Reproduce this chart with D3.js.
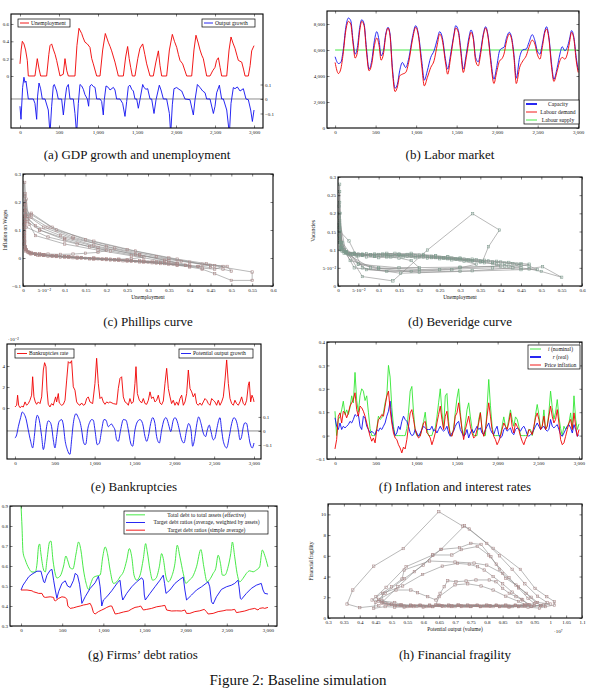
<!DOCTYPE html>
<html>
<head>
<meta charset="utf-8">
<script src="https://cdn.jsdelivr.net/npm/d3@7"></script>
<style>
body { margin: 0; background: #fff; }
text { font-family: "Liberation Serif", "DejaVu Serif", serif; fill: #111; }
.axis text { font-size: 5px; }
.axis line { stroke: #000; stroke-width: 0.5; }
</style>
</head>
<body>
<svg id="fig" width="592" height="688"></svg>
<script>

// (a) GDP growth and unemployment  [time, value]
const unemploymentA = [[0,0.14],[15,0.3],[30,0.40],[51,0.37],[72,0.3],[94,0.18],[107,0],[192,0],[222,0.2],[245,0.08],[265,0],[342,0],[370,0.25],[385,0.35],[406,0.37],[430,0.3],[450,0.25],[470,0.18],[513,0],[555,0.02],[577,0.2],[600,0.06],[620,0],[705,0],[730,0.35],[756,0.55],[791,0.49],[810,0.44],[833,0.39],[863,0.37],[897,0.33],[920,0.2],[940,0.14],[983,0],[1026,0],[1060,0.3],[1094,0.49],[1132,0.39],[1155,0.34],[1175,0.29],[1218,0.16],[1261,0],[1325,0],[1355,0.22],[1380,0.34],[1400,0.2],[1419,0.1],[1440,0],[1474,0],[1510,0.2],[1538,0.32],[1573,0.37],[1600,0.25],[1624,0.14],[1667,0],[1709,0],[1740,0.15],[1774,0.29],[1795,0.12],[1816,0],[1880,0],[1915,0.3],[1953,0.48],[1980,0.4],[2009,0.33],[2030,0.25],[2051,0.18],[2085,0.14],[2137,0],[2201,0],[2230,0.3],[2256,0.47],[2285,0.38],[2308,0.3],[2330,0.24],[2350,0.2],[2393,0],[2436,0],[2470,0.06],[2500,0.1],[2520,0.18],[2543,0.21],[2565,0.1],[2585,0],[2650,0],[2680,0.3],[2705,0.45],[2730,0.38],[2756,0.32],[2780,0.24],[2799,0.18],[2842,0.16],[2865,0.08],[2885,0],[2927,0],[2950,0.12],[2970,0.29],[3000,0.35]]

const outputGrowthA = [[0,-0.05],[13,-0.14],[34,0.08],[51,0.15],[64,0.114],[77,0.124],[94,0.055],[107,0],[171,0],[192,-0.03],[214,-0.14],[226,0.02],[244,0.11],[265,0.07],[286,0],[321,0],[363,-0.076],[385,-0.24],[406,-0.05],[427,0.09],[440,0.1],[470,0.055],[491,0],[534,0],[556,-0.11],[577,-0.005],[598,0.08],[620,0.1],[641,0],[684,0],[705,-0.1],[726,-0.24],[748,-0.03],[769,0.1],[791,0.09],[812,0.067],[833,0.03],[863,0],[880,-0.05],[897,0.09],[919,0.1],[940,0.086],[962,0.08],[983,0],[1026,0],[1047,-0.017],[1068,-0.11],[1081,-0.005],[1103,0.09],[1132,0.08],[1154,0.062],[1197,0.08],[1218,0.062],[1239,0],[1282,0],[1316,-0.03],[1346,-0.12],[1368,-0.017],[1389,0.086],[1410,0.095],[1432,0.067],[1453,0.055],[1474,0],[1496,0],[1517,-0.064],[1538,-0.005],[1573,0.1],[1590,0.079],[1615,0.067],[1637,0.071],[1667,0],[1688,0],[1718,-0.1],[1744,-0.005],[1786,0.095],[1808,0.062],[1838,0],[1880,0],[1915,-0.1],[1932,-0.24],[1953,-0.04],[1974,0.071],[2009,0.079],[2038,0.067],[2073,0.055],[2115,0],[2179,-0.005],[2222,-0.11],[2244,-0.005],[2274,0.1],[2308,0.079],[2342,0.055],[2372,0.043],[2393,0],[2436,0],[2479,-0.1],[2500,-0.05],[2521,0.043],[2556,0.095],[2585,0],[2607,0],[2650,-0.076],[2684,-0.24],[2705,-0.03],[2735,0.079],[2756,0.071],[2786,0.083],[2821,0.055],[2863,0.071],[2897,0],[2927,-0.005],[2957,-0.076],[2979,-0.155],[3000,-0.076]]

// (b) Labor market
const capacityB = [[0,5480],[41,4960],[70,5040],[99,5940],[132,7740],[164,8460],[193,8260],[222,6710],[247,5680],[275,6200],[304,7740],[329,8330],[358,8000],[386,6200],[419,4530],[452,5170],[485,6710],[514,7410],[543,6710],[567,5560],[596,5940],[625,7230],[653,7740],[678,7230],[707,4650],[740,3060],[769,3370],[797,4400],[830,5040],[871,4650],[912,5430],[954,6970],[995,7870],[1028,7230],[1069,5170],[1101,3680],[1138,4400],[1180,5430],[1221,5940],[1262,6840],[1290,7410],[1323,6970],[1365,5170],[1389,4530],[1426,5680],[1467,7230],[1488,7870],[1521,7490],[1549,6200],[1582,4530],[1619,5680],[1652,6970],[1677,7540],[1706,6970],[1734,5430],[1767,5090],[1796,5940],[1829,7230],[1858,7790],[1891,6970],[1919,5430],[1960,3750],[1993,4650],[2030,5940],[2055,6120],[2084,6200],[2117,6970],[2150,7360],[2178,6970],[2207,5680],[2236,3830],[2277,5430],[2318,6020],[2359,6070],[2392,6580],[2433,7180],[2466,6710],[2495,5940],[2528,5680],[2557,6450],[2589,7490],[2610,7790],[2639,6970],[2672,4910],[2700,3750],[2741,4650],[2774,5680],[2803,6250],[2836,5940],[2865,6200],[2893,6840],[2918,7490],[2947,6970],[2976,5430],[3000,4450]]

const labourDemandB = [[0,5040],[41,4190],[70,4530],[99,5680],[132,7490],[164,8200],[193,7990],[222,6450],[247,5380],[275,5810],[304,7490],[329,8200],[358,7870],[386,5940],[419,4400],[452,4910],[485,6330],[514,6920],[543,6330],[567,5220],[596,5680],[625,7100],[653,7690],[678,7100],[707,4400],[740,2800],[769,3160],[797,4010],[830,4140],[871,4270],[912,5170],[954,6760],[995,7740],[1028,7100],[1069,4780],[1101,3240],[1138,3880],[1180,4650],[1221,5170],[1262,6450],[1290,7230],[1323,6760],[1365,4910],[1389,4140],[1426,5430],[1467,7100],[1488,7690],[1521,7360],[1549,5940],[1582,4270],[1619,5430],[1652,6710],[1677,7360],[1706,6840],[1734,5170],[1767,4780],[1796,5680],[1829,7100],[1858,7690],[1891,6840],[1919,5170],[1960,3420],[1993,4270],[2030,5170],[2055,5300],[2084,5680],[2117,6710],[2150,7230],[2178,6840],[2207,5430],[2236,3420],[2277,4650],[2318,5170],[2359,5560],[2392,6200],[2433,6760],[2466,6450],[2495,5680],[2528,5300],[2557,6200],[2589,7360],[2610,7610],[2639,6840],[2672,4650],[2700,3580],[2741,4400],[2774,5170],[2803,5430],[2836,5300],[2865,5680],[2893,6580],[2918,7360],[2947,6840],[2976,5170],[3000,4270]]

const labourSupplyB = [[0,6000],[3000,6000]]

// (c) Phillips curve  [unemployment, wage inflation]
const phillipsC = [
  [0.006,0.15],[0.03,0.115],[0.09,0.08],[0.17,0.045],[0.27,0.012],[0.35,-0.01],[0.40,-0.026],
  [0.37,-0.021],[0.33,-0.016],[0.29,-0.011],[0.25,-0.007],[0.21,-0.004],[0.17,0.0],[0.13,0.003],[0.1,0.006],[0.07,0.009],[0.045,0.012],[0.025,0.016],[0.012,0.022],[0.005,0.035],[0.003,0.07],[0.003,0.12],[0.004,0.19],[0.005,0.23],[0.004,0.17],
  [0.012,0.14],[0.04,0.1],[0.1,0.065],[0.16,0.04],[0.2,0.027],
  [0.18,0.02],[0.15,0.017],[0.12,0.014],[0.09,0.013],[0.06,0.014],[0.04,0.016],[0.02,0.02],[0.008,0.028],[0.004,0.05],[0.003,0.09],[0.004,0.14],[0.006,0.18],
  [0.02,0.145],[0.06,0.11],[0.12,0.075],[0.2,0.04],[0.28,0.012],[0.34,-0.008],[0.37,-0.018],
  [0.35,-0.017],[0.32,-0.014],[0.29,-0.012],[0.26,-0.01],[0.23,-0.007],[0.2,-0.005],[0.17,-0.002],[0.14,0.001],[0.11,0.004],[0.08,0.008],[0.05,0.011],[0.03,0.014],[0.015,0.02],[0.006,0.04],[0.004,0.09],[0.005,0.15],[0.006,0.2],[0.004,0.27],[0.005,0.22],
  [0.01,0.13],[0.04,0.1],[0.1,0.07],[0.18,0.038],[0.28,0.01],[0.38,-0.012],[0.46,-0.028],[0.55,-0.05],[0.55,-0.08],[0.5,-0.08],[0.46,-0.056],
  [0.43,-0.04],[0.4,-0.032],[0.37,-0.026],[0.34,-0.02],[0.3,-0.015],[0.26,-0.011],[0.22,-0.007],[0.18,-0.003],[0.14,0.0],[0.1,0.004],[0.07,0.007],[0.04,0.012],[0.02,0.017],[0.008,0.03],[0.004,0.06],[0.004,0.11],[0.006,0.16],
  [0.02,0.16],[0.07,0.11],[0.15,0.065],[0.25,0.03],[0.35,0.0],[0.43,-0.022],[0.49,-0.03],[0.5,-0.047],[0.48,-0.04],
  [0.45,-0.034],[0.42,-0.03],[0.39,-0.026],[0.36,-0.022],[0.32,-0.018],[0.28,-0.014],[0.24,-0.01],[0.2,-0.006],[0.16,-0.003],[0.12,0.001],[0.08,0.005],[0.05,0.009],[0.03,0.013],[0.012,0.02],[0.005,0.04],[0.003,0.08],[0.004,0.13],[0.006,0.19],[0.008,0.21],
  [0.015,0.12],[0.03,0.08],[0.1,0.05],[0.18,0.028],[0.26,0.008],[0.34,-0.012],
  [0.31,-0.012],[0.28,-0.01],[0.25,-0.008],[0.22,-0.006],[0.19,-0.004],[0.16,-0.002],[0.13,0.001],[0.1,0.004],[0.07,0.007],[0.04,0.01],[0.02,0.015],[0.007,0.025],[0.004,0.06],[0.004,0.1],[0.005,0.15],
  [0.02,0.155],[0.08,0.1],[0.17,0.06],[0.27,0.025],[0.37,-0.004],[0.44,-0.02],[0.48,-0.03],[0.46,-0.04],
  [0.43,-0.036],[0.4,-0.03],[0.37,-0.025],[0.33,-0.02],[0.29,-0.015],[0.25,-0.011],[0.21,-0.007],[0.17,-0.004],[0.13,-0.001],[0.09,0.003],[0.06,0.006],[0.035,0.01],[0.018,0.015],[0.007,0.03],[0.004,0.07],[0.005,0.13],[0.006,0.17],
  [0.012,0.15],[0.05,0.11],[0.12,0.07],[0.22,0.035],[0.32,0.005],[0.4,-0.015],[0.45,-0.026],
  [0.42,-0.03],[0.39,-0.026],[0.35,-0.022],[0.31,-0.017],[0.27,-0.012],[0.23,-0.008],[0.19,-0.004],[0.15,-0.001],[0.11,0.003],[0.08,0.006],[0.05,0.01],[0.03,0.013],[0.015,0.018],[0.006,0.03],[0.004,0.08],[0.005,0.12],
  [0.008,0.11],[0.06,0.075],[0.13,0.05],[0.21,0.025],[0.29,0.003],
  [0.26,-0.003],[0.23,-0.004],[0.2,-0.003],[0.17,-0.001],[0.14,0.002],[0.11,0.005],[0.08,0.008],[0.05,0.011],[0.03,0.015],[0.015,0.02],[0.006,0.03],[0.003,0.05]
]

// (d) Beveridge curve  [unemployment, vacancies]
const beveridgeD = [
  [0.004,0.12],[0.03,0.07],[0.1,0.05],[0.2,0.045],[0.3,0.05],[0.4,0.055],
  [0.38,0.062],[0.35,0.066],[0.32,0.07],[0.29,0.073],[0.26,0.076],[0.23,0.078],[0.2,0.08],[0.17,0.082],[0.14,0.083],[0.11,0.085],[0.08,0.086],[0.05,0.088],[0.03,0.09],[0.015,0.095],[0.006,0.11],[0.003,0.15],[0.003,0.2],[0.004,0.26],[0.005,0.2],
  [0.01,0.1],[0.05,0.06],[0.1,0.048],[0.2,0.05],
  [0.18,0.07],[0.15,0.077],[0.12,0.08],[0.09,0.082],[0.06,0.085],[0.04,0.088],[0.02,0.092],[0.008,0.1],[0.004,0.13],[0.003,0.17],
  [0.008,0.12],[0.06,0.026],[0.135,0.014],[0.22,0.099],[0.331,0.199],[0.397,0.154],[0.37,0.108],[0.355,0.067],
  [0.33,0.07],[0.3,0.075],[0.27,0.08],[0.24,0.083],[0.21,0.087],[0.18,0.09],[0.15,0.088],[0.12,0.086],[0.09,0.085],[0.06,0.088],[0.04,0.09],[0.02,0.095],[0.007,0.12],[0.004,0.17],[0.003,0.22],[0.004,0.28],
  [0.005,0.15],[0.027,0.124],[0.06,0.05],[0.154,0.035],[0.3,0.04],[0.45,0.045],[0.503,0.053],[0.55,0.024],[0.5,0.04],
  [0.47,0.047],[0.45,0.05],[0.42,0.055],[0.39,0.06],[0.36,0.064],[0.33,0.068],[0.3,0.072],[0.27,0.075],[0.24,0.078],[0.21,0.08],[0.18,0.082],[0.15,0.084],[0.12,0.083],[0.09,0.082],[0.06,0.084],[0.035,0.087],[0.018,0.092],[0.007,0.105],[0.004,0.14],[0.003,0.19],[0.004,0.23],
  [0.01,0.11],[0.04,0.05],[0.12,0.04],[0.25,0.045],[0.38,0.05],[0.49,0.045],
  [0.47,0.055],[0.44,0.06],[0.41,0.063],[0.38,0.066],[0.35,0.069],[0.32,0.072],[0.29,0.075],[0.26,0.078],[0.23,0.082],[0.2,0.085],[0.17,0.087],[0.14,0.09],[0.11,0.088],[0.08,0.085],[0.05,0.083],[0.03,0.086],[0.015,0.09],[0.006,0.1],[0.003,0.14],[0.004,0.18],
  [0.02,0.09],[0.08,0.05],[0.18,0.04],[0.28,0.045],[0.34,0.06],
  [0.31,0.068],[0.28,0.072],[0.25,0.075],[0.22,0.077],[0.19,0.078],[0.16,0.08],[0.13,0.08],[0.1,0.078],[0.07,0.08],[0.045,0.083],[0.025,0.087],[0.01,0.095],[0.004,0.12],[0.003,0.16],
  [0.015,0.1],[0.07,0.045],[0.2,0.038],[0.33,0.042],[0.43,0.05],[0.47,0.06],
  [0.45,0.062],[0.42,0.065],[0.39,0.068],[0.36,0.071],[0.33,0.074],[0.3,0.077],[0.27,0.08],[0.24,0.082],[0.21,0.084],[0.18,0.086],[0.15,0.087],[0.12,0.09],[0.09,0.088],[0.06,0.086],[0.04,0.09],[0.02,0.095],[0.008,0.105],[0.004,0.13],[0.004,0.16],
  [0.01,0.12],[0.05,0.06],[0.15,0.05],[0.3,0.052],[0.41,0.055],[0.45,0.058],
  [0.43,0.062],[0.4,0.066],[0.37,0.069],[0.34,0.072],[0.31,0.074],[0.28,0.077],[0.25,0.079],[0.22,0.081],[0.19,0.083],[0.16,0.084],[0.13,0.085],[0.1,0.087],[0.07,0.089],[0.04,0.09],[0.02,0.094],[0.007,0.11],[0.004,0.15]
]

// (e) Bankruptcies  (rate in 10^-2)
const bankruptcyE = [[0,0.1],[21,0.26],[33,1.22],[46,0.26],[63,0.03],[84,0.16],[105,0.1],[126,0.58],[146,0.26],[167,0.42],[188,0.74],[209,1.22],[222,2.98],[238,1.06],[255,0.58],[272,0.35],[293,0.58],[314,0.42],[335,1.06],[356,3.62],[372,4.32],[389,3.94],[402,1.7],[418,0.35],[439,0.1],[460,0.42],[481,0.26],[510,1.06],[523,0.58],[544,1.38],[556,0.48],[586,0.26],[607,0.35],[628,0.74],[649,2.66],[669,4.42],[690,4.26],[711,4.51],[732,2.02],[753,1.7],[774,0.58],[795,0.35],[816,0.26],[837,0.48],[858,0.26],[879,0.35],[900,0.9],[920,1.06],[941,0.58],[975,0.42],[1004,2.34],[1025,4.74],[1046,2.34],[1067,0.9],[1088,1.06],[1109,0.58],[1130,0.35],[1151,0.58],[1172,0.48],[1192,0.58],[1234,0.42],[1276,0.35],[1297,1.86],[1318,2.82],[1339,2.98],[1360,1.06],[1381,0.58],[1402,0.48],[1423,0.26],[1443,0.9],[1464,0.42],[1485,0.58],[1506,2.34],[1519,3.94],[1536,1.38],[1561,0.74],[1590,0.48],[1611,0.9],[1632,0.42],[1653,0.35],[1674,0.74],[1695,1.54],[1715,0.9],[1736,1.06],[1757,0.58],[1778,0.74],[1799,1.22],[1820,0.48],[1841,0.32],[1862,0.67],[1883,2.34],[1904,3.78],[1925,1.86],[1946,1.06],[1966,0.42],[1987,0.74],[2008,0.26],[2029,0.58],[2050,0.26],[2071,0.9],[2092,1.22],[2113,0.26],[2134,0.58],[2155,1.38],[2176,3.62],[2197,1.86],[2218,1.54],[2238,1.06],[2259,1.38],[2280,0.42],[2301,0.26],[2322,0.48],[2343,0.26],[2364,0.58],[2385,0.9],[2406,0.74],[2427,0.42],[2448,0.26],[2469,0.9],[2489,0.74],[2510,0.58],[2531,0.26],[2552,0.74],[2573,0.26],[2594,0.58],[2615,1.06],[2636,2.66],[2657,4.58],[2678,2.34],[2699,0.9],[2720,0.42],[2741,0.26],[2761,0.74],[2782,0.42],[2803,0.26],[2824,0.58],[2845,1.06],[2866,0.42],[2887,0.26],[2908,0.74],[2929,2.18],[2941,2.5],[2958,0.58],[2975,1.22],[2992,0.9],[3000,0.58]]

const potentialGrowthE = [[0,-0.051],[21,-0.028],[42,0.03],[71,0.095],[92,0.135],[113,0.123],[138,0.088],[167,0.007],[197,-0.074],[222,-0.121],[243,-0.04],[264,0.077],[280,0.112],[305,0.077],[335,-0.04],[356,-0.133],[377,-0.074],[397,0.03],[418,0.072],[439,0.065],[460,0.03],[481,-0.063],[502,-0.121],[523,-0.04],[552,0.065],[586,0.081],[607,0.042],[628,-0.063],[657,-0.133],[690,-0.167],[711,-0.063],[732,0.053],[766,0.123],[795,0.095],[816,0.065],[837,0.007],[858,-0.074],[879,-0.098],[891,-0.091],[912,0.007],[941,0.065],[962,0.081],[983,0.077],[1004,0.007],[1033,-0.098],[1059,-0.086],[1088,0.007],[1117,0.081],[1142,0.077],[1172,0.03],[1192,0.042],[1213,0.049],[1234,0.03],[1255,0.007],[1276,-0.063],[1297,-0.074],[1326,0.007],[1360,0.081],[1393,0.077],[1423,0.007],[1452,-0.086],[1477,-0.109],[1506,0.007],[1536,0.065],[1569,0.081],[1602,0.053],[1632,-0.04],[1653,-0.074],[1674,-0.04],[1703,0.053],[1728,0.095],[1757,0.053],[1778,-0.04],[1812,-0.086],[1841,0.007],[1870,0.077],[1895,0.095],[1925,0.053],[1946,0.007],[1954,-0.005],[1987,0.077],[2008,0.095],[2038,0.065],[2063,0.007],[2092,-0.063],[2121,-0.086],[2155,0.007],[2180,0.053],[2209,0.007],[2230,-0.109],[2259,-0.04],[2280,0.042],[2305,0.1],[2335,0.053],[2364,-0.016],[2393,-0.04],[2414,0.007],[2439,0.042],[2456,0.007],[2489,-0.063],[2510,-0.051],[2531,0.007],[2552,0.065],[2573,0.095],[2594,0.007],[2615,-0.074],[2657,-0.121],[2690,-0.04],[2720,0.053],[2749,0.095],[2782,0.065],[2803,0.007],[2824,-0.063],[2845,-0.04],[2866,0.03],[2887,0.058],[2908,0.053],[2929,-0.016],[2950,-0.086],[2979,-0.121],[3000,-0.086]]

// (f) Inflation and interest rates, sampled evenly over 0..3000
const nominalRateF = [0.104,0,0.07,0.08,0.11,0.147,0.09,0.11,0.09,0.12,0.17,0.14,0.27,0.15,0.1,0.17,0.2,0.19,0.15,0.17,0.1,0.03,0,0,0,0.03,0.083,0.069,0.076,0.097,0.14,0.17,0.3,0.25,0.12,0.04,0,0,0,0,0,0,0,0.03,0.1,0.19,0.21,0.1,0.02,0,0,0,0.03,0.06,0.1,0.03,0,0,0,0.026,0.03,0.08,0.14,0.2,0.1,0.03,0.17,0.18,0.06,0,0,0.03,0.1,0.16,0.2,0.1,0.03,0,0.05,0.11,0.14,0.08,0.03,0,0,0,0.07,0.1,0.03,0,0,0.12,0.24,0.13,0.04,0,0,0,0,0,0.04,0.08,0.04,0.03,0.07,0.11,0.07,0.04,0.08,0.07,0.04,0,0,0,0,0,0.026,0.026,0,0.026,0.09,0.133,0.09,0.026,0.04,0.11,0.026,0.04,0.1,0.19,0.12,0.07,0.1,0.154,0.08,0.03,0,0.04,0.026,0.04,0.054,0.097,0.026,0.17,0.07,0.026,0.05]

const realRateF = [0.076,0.04,0.026,0.054,0.026,0.04,0.033,0.04,0.047,0.061,0.054,0.069,0.09,0.083,0.09,0.04,0.026,0.083,0.076,0.04,0.026,0.011,0.019,0.011,0.004,0.026,0.019,0.033,0.026,0.04,0.054,0.083,0.104,0.147,0.069,0.026,0,0.011,0.04,0.026,0.061,0.083,0.069,0.061,0.04,0.011,0,0.004,0.026,0.011,-0.003,0.011,0.026,0.04,0.033,0.026,0.026,0.026,0.04,0.019,0.026,0.011,0.026,0.04,0.026,0.019,0.026,0.04,0.011,-0.003,0.011,0.019,0.04,0.054,0.061,0.026,0.011,-0.003,0.004,0.026,-0.01,0.011,0.026,0.011,0.026,0.04,0.026,0.033,0.011,0.004,0.026,0.04,0.054,0.026,0.011,0.004,0.026,0.04,0.004,-0.01,-0.003,0.026,0.033,0.019,0.026,0.033,0.011,0.004,0.026,0.033,0.026,0.019,0.033,0.04,0.026,0.004,-0.003,0.004,0.011,0.026,0.04,0.054,0.04,0.026,0.033,0.04,0.026,0.019,0.026,0.069,0.04,0.033,0.04,0.047,0.026,0.004,-0.003,0.011,0.026,0.04,0.047,0.033,0.011,0.047,0.026,-0.003,0.004]

const priceInflationF = [-0.057,-0.017,0.083,0.097,0.054,0.104,0.097,0.076,0.097,0.126,0.14,0.154,0.183,0.111,0.083,0.126,0.119,0.104,0.083,0.054,0.026,-0.003,-0.024,-0.01,-0.031,0.026,0.069,0.076,0.09,0.083,0.126,0.169,0.19,0.111,0.054,0.011,-0.01,-0.017,-0.039,-0.053,-0.074,-0.049,-0.057,-0.017,0.04,0.097,0.111,0.069,0.026,0.004,-0.01,-0.003,0.026,0.054,0.061,0.011,0.004,-0.01,-0.039,-0.017,0.011,0.054,0.09,0.126,0.069,0.026,0.083,0.104,0.04,0.004,-0.003,0.026,0.083,0.097,0.14,0.083,0.026,-0.017,0.026,0.054,0.083,0.04,0.011,-0.01,-0.003,0.026,0.054,0.097,0.026,-0.003,0.026,0.083,0.14,0.083,0.026,-0.003,-0.017,-0.039,-0.024,-0.003,0.026,0.054,0.04,0.026,0.054,0.097,0.04,0.011,0.054,0.04,0.026,-0.003,-0.024,-0.039,-0.017,-0.003,0.026,0.019,0.004,0.04,0.076,0.097,0.069,0.026,0.04,0.083,0.026,0.04,0.083,0.126,0.083,0.054,0.069,0.111,0.054,-0.017,-0.039,-0.031,-0.003,0.026,0.054,0.069,0.026,0.097,0.04,-0.003,0.026]

// (g) Firms' debt ratios
const totalDebtG = [[0,0.9],[12,0.795],[24,0.67],[52,0.63],[93,0.59],[133,0.57],[174,0.57],[194,0.61],[214,0.70],[226,0.71],[242,0.66],[275,0.58],[295,0.57],[315,0.63],[347,0.72],[363,0.725],[388,0.63],[416,0.56],[436,0.54],[476,0.55],[517,0.60],[545,0.65],[569,0.625],[598,0.59],[630,0.585],[670,0.665],[699,0.72],[727,0.68],[759,0.58],[791,0.513],[820,0.483],[848,0.513],[880,0.543],[921,0.55],[961,0.555],[993,0.646],[1022,0.695],[1050,0.662],[1082,0.58],[1123,0.513],[1163,0.521],[1203,0.546],[1244,0.571],[1284,0.629],[1316,0.687],[1345,0.646],[1373,0.554],[1405,0.529],[1446,0.554],[1486,0.637],[1514,0.712],[1534,0.671],[1567,0.58],[1599,0.529],[1639,0.538],[1680,0.596],[1708,0.662],[1728,0.637],[1761,0.546],[1789,0.521],[1829,0.546],[1870,0.613],[1898,0.704],[1930,0.646],[1971,0.563],[2003,0.513],[2043,0.529],[2084,0.546],[2132,0.596],[2185,0.682],[2221,0.596],[2261,0.521],[2302,0.538],[2334,0.563],[2366,0.588],[2395,0.654],[2423,0.613],[2447,0.554],[2475,0.554],[2516,0.596],[2548,0.662],[2568,0.72],[2596,0.646],[2625,0.563],[2657,0.521],[2697,0.538],[2738,0.563],[2778,0.576],[2819,0.571],[2859,0.58],[2899,0.596],[2932,0.68],[2960,0.654],[3000,0.596]]

const targetWeightedG = [[0,0.48],[24,0.504],[52,0.521],[93,0.546],[133,0.559],[194,0.574],[242,0.574],[275,0.521],[287,0.516],[315,0.554],[355,0.579],[376,0.583],[396,0.529],[416,0.48],[436,0.438],[456,0.471],[497,0.513],[537,0.526],[565,0.5],[598,0.493],[638,0.529],[658,0.563],[686,0.554],[711,0.509],[731,0.446],[739,0.413],[779,0.446],[840,0.488],[900,0.516],[941,0.549],[961,0.496],[981,0.4],[1001,0.43],[1042,0.446],[1102,0.476],[1171,0.516],[1203,0.529],[1224,0.455],[1236,0.43],[1284,0.463],[1345,0.496],[1405,0.521],[1466,0.541],[1486,0.529],[1498,0.455],[1510,0.43],[1567,0.463],[1627,0.496],[1688,0.529],[1728,0.554],[1744,0.513],[1761,0.463],[1809,0.48],[1870,0.513],[1930,0.533],[1971,0.544],[1991,0.48],[2011,0.43],[2072,0.455],[2132,0.48],[2193,0.496],[2273,0.521],[2293,0.496],[2314,0.421],[2334,0.41],[2374,0.446],[2435,0.483],[2495,0.496],[2556,0.504],[2596,0.513],[2637,0.529],[2649,0.496],[2665,0.438],[2677,0.433],[2738,0.463],[2798,0.488],[2859,0.504],[2919,0.513],[2940,0.48],[2960,0.463],[3000,0.46]]

const targetSimpleG = [[0,0.48],[73,0.48],[133,0.476],[153,0.471],[194,0.466],[214,0.463],[254,0.463],[275,0.446],[295,0.443],[355,0.446],[396,0.443],[404,0.43],[416,0.425],[456,0.438],[497,0.446],[537,0.443],[557,0.433],[569,0.4],[598,0.388],[638,0.391],[678,0.396],[719,0.4],[759,0.405],[800,0.408],[840,0.413],[860,0.396],[880,0.367],[900,0.36],[941,0.372],[981,0.38],[1022,0.388],[1042,0.393],[1082,0.4],[1102,0.4],[1123,0.38],[1144,0.36],[1184,0.363],[1244,0.37],[1304,0.375],[1345,0.385],[1385,0.393],[1425,0.396],[1454,0.4],[1486,0.38],[1526,0.383],[1587,0.388],[1647,0.396],[1708,0.4],[1748,0.403],[1769,0.38],[1829,0.375],[1890,0.376],[1950,0.375],[1991,0.38],[2011,0.363],[2051,0.363],[2112,0.372],[2172,0.376],[2225,0.383],[2253,0.372],[2273,0.36],[2334,0.363],[2395,0.372],[2455,0.376],[2495,0.38],[2556,0.38],[2596,0.383],[2617,0.367],[2657,0.37],[2718,0.375],[2778,0.383],[2839,0.388],[2879,0.38],[2899,0.388],[2940,0.391],[2960,0.388],[3000,0.393]]

// (h) Financial fragility  [potential output 10^7, fragility]
const fragilityH = [
  [0.46,1.2],[0.4,1.0],[0.36,1.35],[0.378,2.7],[0.444,5.0],[0.537,6.7],[0.649,10.26],[0.724,8.87],[0.745,8.59],[0.82,6.72],[0.906,4.69],[0.952,2.86],[0.989,2.06],[1.013,1.58],[1.013,1.25],[0.985,1.1],[0.966,0.95],[0.93,1.05],[0.9,1.1],[0.87,1.05],[0.84,1.1],[0.81,1.15],[0.78,1.1],[0.75,1.15],[0.72,1.2],[0.69,1.1],[0.66,1.15],[0.63,1.1],[0.6,1.05],[0.57,1.1],[0.54,1.05],[0.51,1.05],[0.48,1.1],[0.444,0.93],
  [0.45,1.5],[0.48,2.4],[0.54,3.8],[0.6,5.1],[0.63,6.08],[0.656,6.62],[0.73,8.9],[0.8,7.2],[0.84,6.0],[0.88,4.7],[0.92,3.3],[0.96,2.1],[0.99,1.5],[0.98,1.25],[0.95,1.2],[0.92,1.15],[0.89,1.2],[0.86,1.15],[0.83,1.2],[0.8,1.25],[0.77,1.2],[0.74,1.15],[0.71,1.2],[0.68,1.25],[0.65,1.2],[0.62,1.15],[0.59,1.2],[0.56,1.15],[0.53,1.2],[0.5,1.3],[0.47,1.4],
  [0.47,1.5],[0.52,3.0],[0.572,4.47],[0.656,6.62],[0.714,6.78],[0.75,7.2],[0.782,7.1],[0.813,5.92],[0.84,4.7],[0.86,3.83],[0.892,3.18],[0.924,2.38],[0.955,1.5],[0.97,1.2],[0.94,1.1],[0.91,1.15],[0.88,1.1],[0.85,1.15],[0.82,1.1],[0.79,1.15],[0.76,1.2],[0.73,1.15],[0.7,1.1],[0.67,1.15],[0.64,1.2],[0.61,1.1],[0.58,1.15],[0.55,1.1],[0.52,1.2],[0.49,1.3],[0.46,1.6],
  [0.451,2.06],[0.483,2.96],[0.546,4.95],[0.63,6.08],[0.69,6.08],[0.72,6.6],[0.77,6.9],[0.806,6.08],[0.83,5.2],[0.87,3.9],[0.9,2.9],[0.93,1.9],[0.95,1.4],[0.92,1.2],[0.89,1.25],[0.86,1.2],[0.83,1.25],[0.8,1.2],[0.77,1.25],[0.74,1.2],[0.71,1.3],[0.68,1.2],[0.65,1.25],[0.62,1.2],[0.59,1.25],[0.56,1.2],[0.53,1.25],[0.5,1.35],[0.47,1.7],
  [0.472,2.38],[0.535,3.09],[0.598,4.2],[0.66,5.0],[0.708,5.27],[0.745,5.18],[0.771,4.95],[0.792,4.63],[0.82,4.0],[0.85,3.3],[0.88,2.5],[0.91,1.8],[0.934,1.3],[0.9,1.15],[0.87,1.1],[0.84,1.15],[0.81,1.2],[0.78,1.15],[0.75,1.1],[0.72,1.15],[0.69,1.2],[0.66,1.15],[0.63,1.1],[0.6,1.15],[0.57,1.2],[0.54,1.15],[0.51,1.2],[0.48,1.4],[0.46,1.8],
  [0.514,2.7],[0.561,2.7],[0.582,2.44],[0.614,2.06],[0.64,1.74],[0.653,2.38],[0.666,3.02],[0.677,3.6],[0.703,3.5],[0.735,3.57],[0.766,3.67],[0.808,3.67],[0.829,3.5],[0.85,2.86],[0.871,2.38],[0.892,2.06],[0.913,1.74],[0.93,1.3],[0.9,1.1],[0.87,1.15],[0.84,1.1],[0.81,1.15],[0.78,1.1],[0.75,1.15],[0.72,1.1],[0.69,1.15],[0.66,1.2],[0.64,1.3],
  [0.65,2.06],[0.7,3.2],[0.74,3.3],[0.782,3.09],[0.82,2.7],[0.86,2.1],[0.9,1.6],[0.92,1.3],[0.89,1.2],[0.86,1.25],[0.83,1.2],[0.8,1.15],[0.77,1.2],[0.74,1.25],[0.71,1.2],[0.68,1.15],[0.65,1.2],[0.62,1.25],[0.59,1.2],[0.56,1.25],[0.53,1.3],[0.51,1.5],
  [0.439,1.74],[0.5,3.0],[0.533,3.76],[0.54,4.63],[0.62,5.5],[0.7,5.4],[0.76,5.3],[0.8,5.1],[0.85,4.3],[0.9,3.0],[0.94,2.0],[0.96,1.5],[1.0,1.35],[0.97,1.2],[0.94,1.15]
]

const yearTicks = [0, 500, 1000, 1500, 2000, 2500, 3000]

const svg = d3.select('#fig')
const comma = d3.format(',')
const minus = v => (v < 0 ? '\u2212' + Math.abs(v) : String(v))
const sci = v => (Math.abs(v - 0.05) < 1e-9 ? '5\u00b710\u207b\u00b2' : minus(+v.toFixed(2)))

const RED = '#f00000', BLUE = '#1010f0', GREEN = '#33e633'

let clipCount = 0

function makePanel(box, xDomain, yDomain) {
  const x = d3.scaleLinear().domain(xDomain).range([box.x0, box.x1])
  const y = d3.scaleLinear().domain(yDomain).range([box.y1, box.y0])
  const g = svg.append('g')
  const id = 'clip' + (clipCount++)
  g.append('clipPath').attr('id', id).append('rect')
    .attr('x', box.x0).attr('y', box.y0)
    .attr('width', box.x1 - box.x0).attr('height', box.y1 - box.y0)
  const plot = g.append('g').attr('clip-path', 'url(#' + id + ')')
  return { x, y, g, plot, box }
}

function noDomain(a) { a.select('.domain').remove() }

function xAxis(p, ticks, fmt) {
  p.g.append('g').attr('class', 'axis')
    .attr('transform', 'translate(0,' + p.box.y1 + ')')
    .call(d3.axisBottom(p.x).tickValues(ticks).tickFormat(fmt).tickSizeInner(-2.5).tickSizeOuter(0).tickPadding(2))
    .call(noDomain)
  p.g.append('g').attr('class', 'axis')
    .attr('transform', 'translate(0,' + p.box.y0 + ')')
    .call(d3.axisTop(p.x).tickValues(ticks).tickFormat(() => '').tickSizeInner(-2.5).tickSizeOuter(0))
    .call(noDomain)
}

function yAxis(p, scale, ticks, fmt, side, mirror) {
  const left = side === 'left'
  const pos = left ? p.box.x0 : p.box.x1
  const ax = left ? d3.axisLeft(scale) : d3.axisRight(scale)
  p.g.append('g').attr('class', 'axis')
    .attr('transform', 'translate(' + pos + ',0)')
    .call(ax.tickValues(ticks).tickFormat(fmt).tickSizeInner(-2.5).tickSizeOuter(0).tickPadding(2))
    .call(noDomain)
  if (mirror) {
    const other = left ? d3.axisRight(scale) : d3.axisLeft(scale)
    p.g.append('g').attr('class', 'axis')
      .attr('transform', 'translate(' + (left ? p.box.x1 : p.box.x0) + ',0)')
      .call(other.tickValues(ticks).tickFormat(() => '').tickSizeInner(-2.5).tickSizeOuter(0))
      .call(noDomain)
  }
}

function frame(p) {
  p.g.append('rect')
    .attr('x', p.box.x0).attr('y', p.box.y0)
    .attr('width', p.box.x1 - p.box.x0).attr('height', p.box.y1 - p.box.y0)
    .attr('fill', 'none').attr('stroke', '#000').attr('stroke-width', 1.1)
}

function drawLine(p, data, color, yScale, curve) {
  const ys = yScale || p.y
  p.plot.append('path').datum(data)
    .attr('fill', 'none').attr('stroke', color).attr('stroke-width', 0.9)
    .attr('stroke-linejoin', 'round')
    .attr('d', d3.line().x(d => p.x(d[0])).y(d => ys(d[1])).curve(curve || d3.curveLinear))
}

function zeroLine(p, yScale) {
  p.plot.append('line')
    .attr('x1', p.box.x0).attr('x2', p.box.x1)
    .attr('y1', yScale(0)).attr('y2', yScale(0))
    .attr('stroke', '#808080').attr('stroke-width', 0.9)
}

function drawLoops(p, pts, markColor) {
  p.plot.append('path').datum(pts)
    .attr('fill', 'none').attr('stroke', '#8a8a8a').attr('stroke-width', 0.6)
    .attr('d', d3.line().x(d => p.x(d[0])).y(d => p.y(d[1])))
  p.g.append('g').selectAll('rect').data(pts).join('rect')
    .attr('x', d => p.x(d[0]) - 1.2).attr('y', d => p.y(d[1]) - 1.2)
    .attr('width', 2.4).attr('height', 2.4)
    .attr('fill', 'none').attr('stroke', markColor).attr('stroke-width', 0.55)
}

// box = [x0, y0, x1, y1]; items = {label, color, w}
function legend(p, box, items, sample, textMode) {
  const g = p.g.append('g')
  g.append('rect')
    .attr('x', box[0]).attr('y', box[1]).attr('width', box[2] - box[0]).attr('height', box[3] - box[1])
    .attr('fill', '#fff').attr('stroke', '#000').attr('stroke-width', 0.7)
  const rowH = (box[3] - box[1]) / items.length
  items.forEach((it, i) => {
    const cy = box[1] + rowH * (i + 0.5)
    g.append('line')
      .attr('x1', box[0] + 2).attr('x2', box[0] + 2 + sample)
      .attr('y1', cy).attr('y2', cy)
      .attr('stroke', it.color).attr('stroke-width', it.w || 0.9)
    const t = g.append('text').attr('y', cy + 1.8).style('font-size', '5.6px')
    if (textMode === 'center') {
      t.attr('x', (box[0] + 2 + sample + box[2]) / 2).attr('text-anchor', 'middle')
    } else {
      t.attr('x', box[0] + 4 + sample)
    }
    if (it.italic) {
      t.append('tspan').style('font-style', 'italic').text(it.italic)
      t.append('tspan').text(it.label)
    } else {
      t.text(it.label)
    }
  })
}

function caption(x, y, txt, size) {
  svg.append('text').attr('x', x).attr('y', y).attr('text-anchor', 'middle')
    .style('font-size', (size || 13) + 'px').text(txt)
}

function label(x, y, txt, rotate) {
  const t = svg.append('text').attr('text-anchor', 'middle').style('font-size', '5.4px').text(txt)
  if (rotate) t.attr('transform', 'translate(' + x + ',' + y + ') rotate(-90)')
  else t.attr('x', x).attr('y', y)
}

const evenly = vals => vals.map((v, i) => [i * 3000 / (vals.length - 1), v])

// ---- (a)
{
  const p = makePanel({ x0: 11, x1: 263, y0: 14, y1: 128 }, [-115, 3115], [-0.6, 0.715])
  const yR = d3.scaleLinear().domain([-0.2, 0.586]).range([128, 14])
  zeroLine(p, yR)
  drawLine(p, unemploymentA, RED)
  drawLine(p, outputGrowthA, BLUE, yR)
  xAxis(p, yearTicks, comma)
  yAxis(p, p.y, [0, 0.2, 0.4, 0.6], minus, 'left')
  yAxis(p, yR, [-0.1, 0, 0.1], minus, 'right')
  frame(p)
  legend(p, [18, 19, 70, 27], [{ label: 'Unemployment', color: RED }], 9, 'left')
  legend(p, [202, 19, 255, 27], [{ label: 'Output growth', color: BLUE }], 9, 'left')
  caption(137, 159, '(a) GDP growth and unemployment')
}

// ---- (b)
{
  const p = makePanel({ x0: 327, x1: 579, y0: 11, y1: 128 }, [-100, 3010], [0, 9000])
  drawLine(p, labourSupplyB, GREEN)
  drawLine(p, capacityB, BLUE, null, d3.curveMonotoneX)
  drawLine(p, labourDemandB, RED, null, d3.curveMonotoneX)
  xAxis(p, yearTicks, comma)
  yAxis(p, p.y, [0, 2000, 4000, 6000, 8000], comma, 'left', true)
  frame(p)
  legend(p, [524, 100, 579, 124], [
    { label: 'Capacity', color: BLUE, w: 1.8 },
    { label: 'Labour demand', color: RED },
    { label: 'Labour supply', color: GREEN }
  ], 11, 'center')
  caption(450, 159, '(b) Labor market')
}

// ---- (c)
{
  const p = makePanel({ x0: 23, x1: 273, y0: 174, y1: 286 }, [0, 0.6], [-0.1, 0.3])
  drawLoops(p, phillipsC, '#a88686')
  xAxis(p, d3.range(0, 0.61, 0.05).map(v => +v.toFixed(2)), sci)
  yAxis(p, p.y, [-0.1, 0, 0.1, 0.2, 0.3], minus, 'left', true)
  frame(p)
  label(148, 299, 'Unemployment')
  label(7, 230, 'Inflation on Wages', true)
  caption(148, 326, '(c) Phillips curve')
}

// ---- (d)
{
  const p = makePanel({ x0: 338, x1: 582, y0: 177, y1: 286 }, [0, 0.6], [0, 0.3])
  drawLoops(p, beveridgeD, '#7b9a8c')
  xAxis(p, d3.range(0, 0.61, 0.05).map(v => +v.toFixed(2)), sci)
  yAxis(p, p.y, [0, 0.05, 0.1, 0.15, 0.2, 0.25, 0.3], sci, 'left', true)
  frame(p)
  label(460, 299, 'Unemployment')
  label(315, 231, 'Vacancies', true)
  caption(460, 326, '(d) Beveridge curve')
}

// ---- (e)
{
  const p = makePanel({ x0: 7, x1: 261, y0: 344, y1: 459 }, [-100, 3088], [-4.86, 6.1])
  const yR = d3.scaleLinear().domain([-0.2, 0.62]).range([459, 344])
  zeroLine(p, yR)
  drawLine(p, bankruptcyE, RED)
  drawLine(p, potentialGrowthE, BLUE, yR, d3.curveMonotoneX)
  xAxis(p, yearTicks, comma)
  yAxis(p, p.y, [0, 2, 4], minus, 'left')
  yAxis(p, yR, [-0.1, 0, 0.1], minus, 'right')
  frame(p)
  svg.append('text').attr('x', 8).attr('y', 341).style('font-size', '5px').text('\u00b710\u207b\u00b2')
  legend(p, [15, 349, 74, 358], [{ label: 'Bankruptcies rate', color: RED }], 10, 'left')
  legend(p, [179, 349, 253, 358], [{ label: 'Potential output growth', color: BLUE }], 10, 'left')
  caption(134, 491, '(e) Bankruptcies')
}

// ---- (f)
{
  const p = makePanel({ x0: 327, x1: 582, y0: 342, y1: 459 }, [-98, 3037], [-0.1, 0.4])
  drawLine(p, evenly(nominalRateF), GREEN)
  drawLine(p, evenly(realRateF), BLUE)
  drawLine(p, evenly(priceInflationF), RED)
  xAxis(p, yearTicks, comma)
  yAxis(p, p.y, [-0.1, 0, 0.1, 0.2, 0.3, 0.4], minus, 'left', true)
  frame(p)
  legend(p, [528, 345, 580, 369], [
    { italic: 'i', label: ' (nominal)', color: GREEN },
    { italic: 'r', label: ' (real)', color: BLUE, w: 1.8 },
    { label: 'Price inflation', color: RED }
  ], 11, 'center')
  caption(455, 491, '(f) Inflation and interest rates')
}

// ---- (g)
{
  const p = makePanel({ x0: 10, x1: 277, y0: 506, y1: 626 }, [-134, 3110], [0.3, 0.9])
  drawLine(p, totalDebtG, GREEN, null, d3.curveMonotoneX)
  drawLine(p, targetWeightedG, BLUE)
  drawLine(p, targetSimpleG, RED)
  xAxis(p, yearTicks, comma)
  yAxis(p, p.y, [0.3, 0.4, 0.5, 0.6, 0.7, 0.8, 0.9], minus, 'left', true)
  frame(p)
  legend(p, [124, 511, 268, 534], [
    { label: 'Total debt to total assets (effective)', color: GREEN },
    { label: 'Target debt ratios (average, weighted by assets)', color: BLUE },
    { label: 'Target debt ratios (simple average)', color: RED }
  ], 19, 'center')
  caption(143, 659, '(g) Firms\u2019 debt ratios')
}

// ---- (h)
{
  const p = makePanel({ x0: 328, x1: 582, y0: 504, y1: 618 }, [0.3, 1.1], [0, 11])
  drawLoops(p, fragilityH, '#a88686')
  xAxis(p, d3.range(0.3, 1.11, 0.05).map(v => +v.toFixed(2)), v => String(v))
  yAxis(p, p.y, [0, 2, 4, 6, 8, 10], v => String(v), 'left', true)
  frame(p)
  label(455, 631, 'Potential output (volume)')
  svg.append('text').attr('x', 554).attr('y', 633).style('font-size', '5px').text('\u00b710\u2077')
  label(313, 561, 'Financial fragility', true)
  caption(455, 659, '(h) Financial fragility')
}

caption(298, 685, 'Figure 2: Baseline simulation', 15)

</script>
</body>
</html>
